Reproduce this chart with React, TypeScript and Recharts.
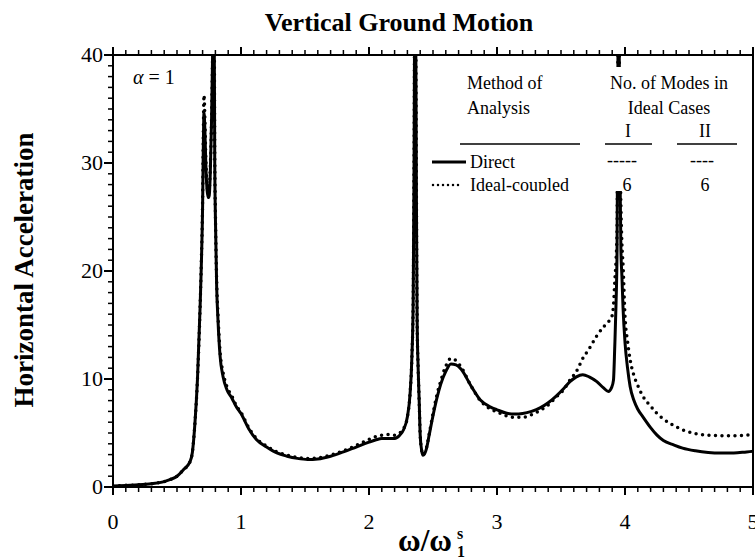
import React from "react";
import { LineChart, Line, XAxis, YAxis } from "recharts";

// frequency ratio ω/ω1s
const freq = [
  0, 0.1, 0.2, 0.3, 0.4, 0.45, 0.5, 0.55, 0.6, 0.62, 0.64, 0.66, 0.68, 0.69, 0.7, 0.705, 0.711,
  0.718, 0.725, 0.735, 0.745, 0.752, 0.76, 0.77, 0.778, 0.785, 0.79, 0.795, 0.8, 0.81, 0.82,
  0.836, 0.86, 0.89, 0.93, 0.96, 1.0, 1.06, 1.12, 1.2, 1.28, 1.36, 1.44, 1.52, 1.6, 1.7, 1.8,
  1.9, 2.0, 2.05, 2.1, 2.15, 2.2, 2.24, 2.27, 2.3, 2.32, 2.335, 2.345, 2.352, 2.358, 2.364, 2.37,
  2.376, 2.384, 2.392, 2.4, 2.41, 2.42, 2.43, 2.45, 2.47, 2.5, 2.53, 2.56, 2.6, 2.64, 2.68, 2.72,
  2.8, 2.87, 2.95, 3.0, 3.07, 3.14, 3.2, 3.27, 3.34, 3.4, 3.46, 3.52, 3.57, 3.62, 3.67, 3.72,
  3.78, 3.83, 3.87, 3.895, 3.91, 3.92, 3.93, 3.938, 3.945, 3.952, 3.96, 3.968, 3.976, 3.985,
  4.0, 4.02, 4.04, 4.07, 4.1, 4.14, 4.2, 4.25, 4.3, 4.38, 4.45, 4.55, 4.65, 4.75, 4.85, 4.95, 5.0,
];

const directAcc = [
  0.1, 0.15, 0.2, 0.3, 0.5, 0.7, 1.0, 1.6, 2.3, 3.2, 5.9, 10, 16.5, 20.5, 26, 31, 34.7,
  33, 30, 27.5, 26.8, 27, 29, 34, 40, 46, 44, 30, 25, 18.5, 15.5,
  12.2, 10.2, 9.0, 8.2, 7.5, 6.8, 5.4, 4.4, 3.7, 3.15, 2.85, 2.65, 2.55, 2.6, 2.85, 3.25,
  3.7, 4.15, 4.35, 4.5, 4.5, 4.5, 4.8, 5.3, 6.5, 8.5, 12, 17, 30, 45, 45, 28,
  15.5, 11, 8, 4.8, 3.5, 2.95, 3.0, 3.6, 4.8, 6.6, 8.2, 9.5, 10.7, 11.4, 11.3, 10.9,
  9.3, 8.05, 7.4, 7.15, 6.85, 6.75, 6.8, 7.0, 7.35, 7.8, 8.4, 9.1, 9.75, 10.2, 10.4, 10.2,
  9.75, 9.2, 8.85, 9.2, 9.9, 13, 17, 22, 40, 45, 30, 22, 19.5, 16.5,
  13.4, 11, 9.3, 8, 7.2, 6.5, 5.5, 4.8, 4.3, 3.9, 3.6, 3.35, 3.2, 3.15, 3.15, 3.25, 3.3,
];

const idealAcc = [
  0.1, 0.15, 0.2, 0.3, 0.5, 0.7, 1.0, 1.6, 2.3, 3.2, 5.9, 10, 16.5, 20.8, 26.5, 32, 36.3,
  34, 30.5, 28, 27.2, 27.5, 29.5, 34, 40, 46, 44, 30.5, 25.5, 19, 16,
  12.6, 10.6, 9.3, 8.4, 7.6, 6.9, 5.5, 4.5, 3.8, 3.25, 2.95, 2.75, 2.65, 2.7, 2.95, 3.35,
  3.85, 4.4, 4.65, 4.8, 4.85, 4.8, 5.0, 5.4, 6.5, 8.5, 12, 17, 30, 45, 45, 28,
  15.5, 11, 8, 4.8, 3.5, 3.0, 3.1, 3.7, 4.9, 6.8, 8.5, 9.8, 11.2, 11.9, 11.7, 11.1,
  9.3, 8.0, 7.2, 6.95, 6.6, 6.45, 6.45, 6.7, 7.1, 7.6, 8.3, 9.0, 9.9, 10.7, 11.9, 12.8,
  14.0, 14.8, 15.3, 15.7, 16.8, 19, 21, 24, 40, 42, 32, 26, 22.5, 20.5,
  15.8, 13.5, 11.8, 10.3, 9.4, 8.4, 7.5, 6.8, 6.3, 5.7, 5.3, 4.95, 4.8, 4.75, 4.75, 4.8, 4.9,
];

const xTicks = [0, 1, 2, 3, 4, 5];
const yTicks = [0, 10, 20, 30, 40];

const data = freq.map((f, i) => ({ f, direct: directAcc[i], ideal: idealAcc[i] }));

// tick marks every 0.1 on x and every 1 on y
const xMinor: number[] = [];
for (let i = 0; i <= 50; i++) xMinor.push(+(i / 10).toFixed(1));
const yMinor: number[] = [];
for (let i = 0; i <= 40; i++) yMinor.push(i);

const FONT = "'Liberation Serif', 'Times New Roman', serif";

const XTick = (props: any) => {
  const { x, y, payload, top } = props;
  const major = xTicks.includes(payload.value);
  const len = major ? 8 : 5;
  const dir = top ? -1 : 1;
  return (
    <g>
      <line x1={x} x2={x} y1={y} y2={y + dir * len} stroke="#000" strokeWidth={major ? 2 : 1.5} />
      {major && !top && (
        <text x={x} y={y + 42} textAnchor="middle" fontSize={22} fontFamily={FONT} fill="#000">
          {payload.value}
        </text>
      )}
    </g>
  );
};

const YTick = (props: any) => {
  const { x, y, payload, right } = props;
  const major = yTicks.includes(payload.value);
  const len = major ? 9 : 5;
  const dir = right ? 1 : -1;
  return (
    <g>
      <line x1={x} x2={x + dir * len} y1={y} y2={y} stroke="#000" strokeWidth={major ? 2 : 1.5} />
      {major && !right && (
        <text x={x - 10} y={y + 7} textAnchor="end" fontSize={22} fontFamily={FONT} fill="#000">
          {payload.value}
        </text>
      )}
    </g>
  );
};

export default function App() {
  return (
    <div style={{ position: "absolute", left: 0, top: 0, width: 755, height: 560, background: "#fff" }}>
      <LineChart width={755} height={560} data={data} margin={{ top: 45, right: 0, bottom: 43, left: 53 }}>
        <XAxis
          xAxisId={0}
          dataKey="f"
          type="number"
          domain={[0, 5]}
          ticks={xMinor}
          interval={0}
          height={30}
          tickSize={0}
          tickMargin={0}
          tickLine={false}
          allowDataOverflow
          axisLine={{ stroke: "#000", strokeWidth: 2 }}
          tick={<XTick />}
        />
        <XAxis
          xAxisId="top"
          orientation="top"
          dataKey="f"
          type="number"
          domain={[0, 5]}
          ticks={xMinor}
          interval={0}
          height={10}
          tickSize={0}
          tickMargin={0}
          tickLine={false}
          axisLine={{ stroke: "#000", strokeWidth: 2 }}
          tick={<XTick top />}
        />
        <YAxis
          yAxisId={0}
          type="number"
          domain={[0, 40]}
          ticks={yMinor}
          interval={0}
          width={60}
          tickSize={0}
          tickMargin={0}
          tickLine={false}
          allowDataOverflow
          axisLine={{ stroke: "#000", strokeWidth: 2 }}
          tick={<YTick />}
        />
        <YAxis
          yAxisId="right"
          orientation="right"
          type="number"
          domain={[0, 40]}
          ticks={yMinor}
          interval={0}
          width={2}
          tickSize={0}
          tickMargin={0}
          tickLine={false}
          axisLine={{ stroke: "#000", strokeWidth: 2 }}
          tick={<YTick right />}
        />
        <Line
          dataKey="ideal"
          type="monotone"
          stroke="#000"
          strokeWidth={3.5}
          strokeDasharray="0 6.5"
          strokeLinecap="round"
          dot={false}
          isAnimationActive={false}
        />
        <Line
          dataKey="direct"
          type="monotone"
          stroke="#000"
          strokeWidth={3}
          dot={false}
          isAnimationActive={false}
        />
      </LineChart>
      <svg
        width={755}
        height={560}
        style={{ position: "absolute", left: 0, top: 0, pointerEvents: "none" }}
        fontFamily={FONT}
      >
        <defs>
          <clipPath id="legendClip">
            <rect x={425} y={67} width={322} height={124} />
          </clipPath>
        </defs>
        <text x={399} y={31} textAnchor="middle" fontSize={26} fontWeight="bold">
          Vertical Ground Motion
        </text>
        <text
          x={0}
          y={0}
          transform="translate(33 270) rotate(-90)"
          textAnchor="middle"
          fontSize={27}
          fontWeight="bold"
        >
          Horizontal Acceleration
        </text>
        <text x={398} y={551} fontSize={31} fontWeight="bold">ω/ω</text>
        <text x={457} y={539} fontSize={16} fontWeight="bold">s</text>
        <text x={457} y={557} fontSize={16} fontWeight="bold">1</text>
        <text x={133} y={84} fontSize={20}>
          <tspan fontStyle="italic">α</tspan> = 1
        </text>
        <g clipPath="url(#legendClip)">
          <rect x={425} y={67} width={322} height={124} fill="#fff" />
          <g fontSize={18}>
            <text x={467} y={89}>Method of</text>
            <text x={467} y={114}>Analysis</text>
            <text x={669} y={89} textAnchor="middle">No. of Modes in</text>
            <text x={669} y={114} textAnchor="middle">Ideal Cases</text>
            <text x={628} y={137} textAnchor="middle">I</text>
            <text x={705} y={137} textAnchor="middle">II</text>
            <line x1={460} x2={580} y1={144} y2={144} stroke="#000" strokeWidth={1.3} />
            <line x1={605} x2={652} y1={144} y2={144} stroke="#000" strokeWidth={1.3} />
            <line x1={677} x2={737} y1={144} y2={144} stroke="#000" strokeWidth={1.3} />
            <line x1={432} x2={466} y1={162} y2={162} stroke="#000" strokeWidth={3} />
            <text x={470} y={168}>Direct</text>
            <text x={622} y={166} textAnchor="middle">-----</text>
            <text x={702} y={166} textAnchor="middle">----</text>
            <line
              x1={433}
              x2={463}
              y1={185}
              y2={185}
              stroke="#000"
              strokeWidth={2.5}
              strokeDasharray="0 5"
              strokeLinecap="round"
            />
            <text x={470} y={191}>Ideal-coupled</text>
            <text x={627} y={191} textAnchor="middle">6</text>
            <text x={705} y={191} textAnchor="middle">6</text>
          </g>
        </g>
      </svg>
    </div>
  );
}
